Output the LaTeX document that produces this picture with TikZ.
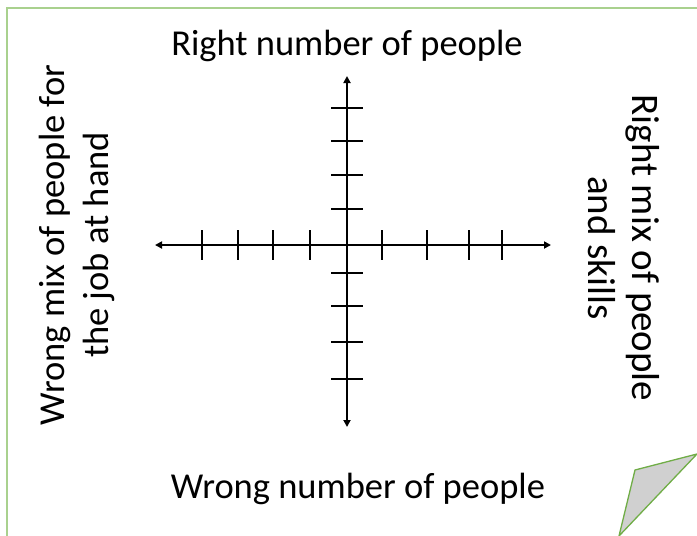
\documentclass[tikz,border=0pt]{standalone}
\usepackage{fontspec}
\setmainfont{Carlito}
\usetikzlibrary{
  positioning,
  arrows.meta,
}
\definecolor{frameCol}{HTML}{A9D18E}
\definecolor{foldLine}{HTML}{70AD47}
\definecolor{foldFill}{HTML}{D0D0D0}
\definecolor{axisCol}{HTML}{000000}
\tikzset{
  axis/.style={{Triangle[length=7pt,width=7pt]}-{Triangle[length=7pt,width=7pt]}, draw=axisCol, line width=1.8pt},
  tick/.style={draw=axisCol, line width=1.8pt},
  label/.style={font=\fontsize{36.5}{44}\selectfont, align=center, inner sep=0pt},
  biglabel/.style={label, font=\fontsize{39}{44}\selectfont},
}

\begin{document}
\begin{tikzpicture}[x=1pt, y=-1pt]
  \useasboundingbox (0,0) rectangle (697,536);

  % Page
  \draw[frameCol, line width=2.5pt] (7,540) -- (7,8) -- (700,8);
  \draw[foldLine, fill=foldFill, line width=1.3pt, line join=round] (635,470) -- (697,454) -- (619,536) -- cycle;

  % Axes
  \coordinate (west) at (155,245);
  \coordinate (east) at (551,245);
  \coordinate (north) at (347,76);
  \coordinate (south) at (347,427);
  \draw[axis] (west) -- (east);
  \draw[axis] (north) -- (south);

  \foreach \x in {202,238,273,310,382,427,469,502}
    \draw[tick] (\x,230) -- (\x,260);
  \foreach \y in {108,141,175,209,273,306,342,379}
    \draw[tick] (331,\y) -- (363,\y);

  % Labels
  \node[label] (top) at (347,46) {Right number of people};
  \node[label] (bottom) at (358,489) {Wrong number of people};
  \node[label, rotate=90] (left) at (77,245) {Wrong mix of people for\\the job at hand};
  \node[biglabel, rotate=-90] (right) at (624,248) {Right mix of people\\and skills};

\end{tikzpicture}
\end{document}
